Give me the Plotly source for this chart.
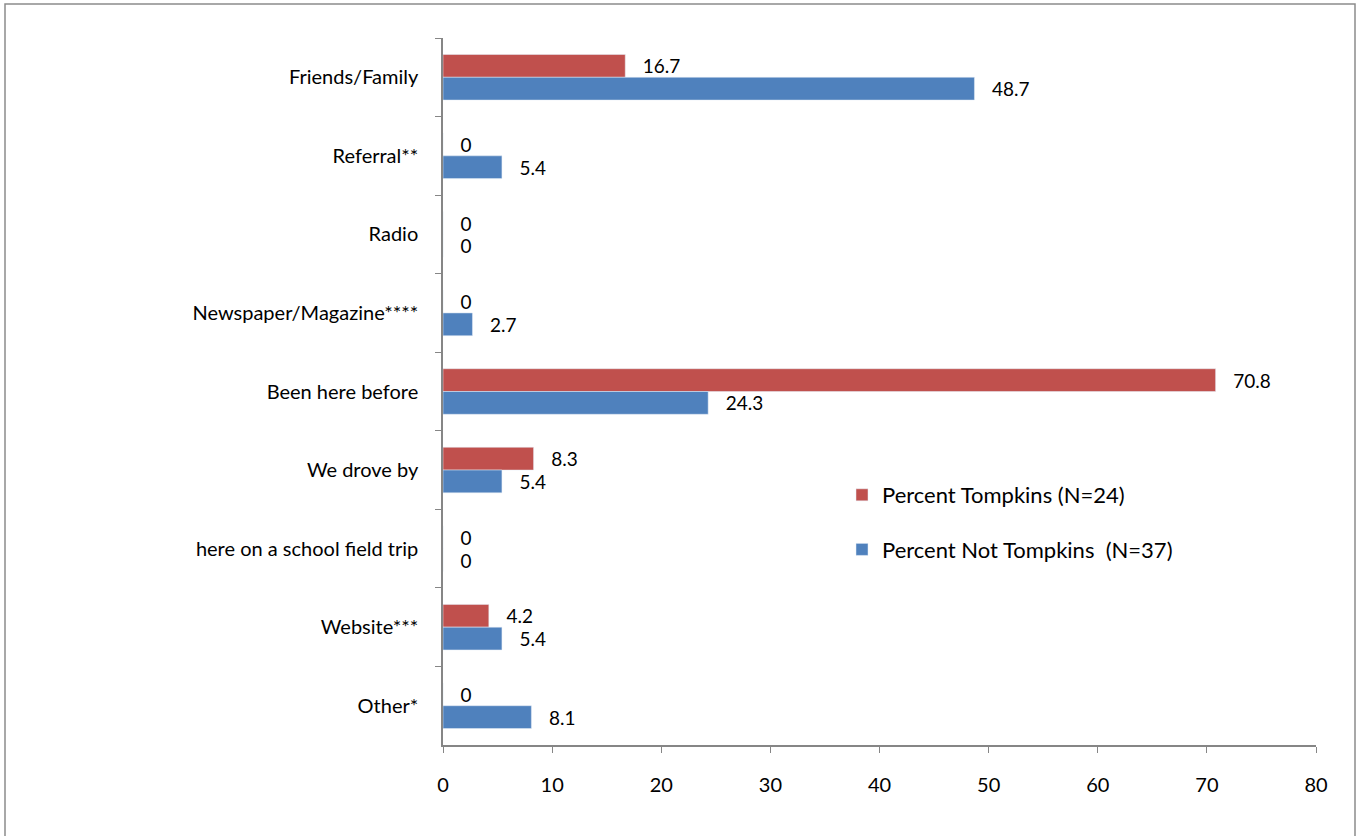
import plotly.graph_objects as go

categories = ["Friends/Family", "Referral**", "Radio", "Newspaper/Magazine****",
              "Been here before", "We drove by", "here on a school field trip",
              "Website***", "Other*"]
tompkins = [16.7, 0, 0, 0, 70.8, 8.3, 0, 4.2, 0]
not_tompkins = [48.7, 5.4, 0, 2.7, 24.3, 5.4, 0, 5.4, 8.1]
x_ticks = [0, 10, 20, 30, 40, 50, 60, 70, 80]

FONT = "Lato, Open Sans, sans-serif"
FS = 20

def fmt(v):
    return "   " + ("%g" % v)

fig = go.Figure()
fig.add_trace(go.Bar(
    y=categories, x=tompkins, orientation="h", name="Percent Tompkins (N=24)",
    marker=dict(color="#C0504D"), text=[fmt(v) for v in tompkins],
    textposition="outside", cliponaxis=False, legendgroup="a",
    textfont=dict(size=FS, color="black", family=FONT)))
fig.add_trace(go.Bar(
    y=categories, x=not_tompkins, orientation="h", name="Percent Not Tompkins  (N=37)",
    marker=dict(color="#4F81BD"), text=[fmt(v) for v in not_tompkins],
    textposition="outside", cliponaxis=False, legendgroup="b",
    textfont=dict(size=FS, color="black", family=FONT)))

W, H = 1369, 836
L, R, T, B = 443, 53, 38, 91
pw, ph = W - L - R, H - T - B

def px_x(x):
    return (x - L) / pw

def px_y(y):
    return (H - B - y) / ph

fig.update_layout(
    width=W, height=H, barmode="group", bargap=0.42, bargroupgap=0,
    margin=dict(l=L, r=R, t=T, b=B, autoexpand=False),
    paper_bgcolor="white", plot_bgcolor="white",
    font=dict(family=FONT, size=FS, color="black"),
    legend=dict(x=px_x(842), y=px_y(474), xanchor="left", yanchor="top",
                bgcolor="rgba(0,0,0,0)", font=dict(size=22, family=FONT),
                tracegroupgap=23, itemwidth=30, traceorder="grouped"),
    xaxis=dict(range=[0, 80], tickvals=x_ticks, showgrid=False, zeroline=False,
               showline=True, linecolor="#868686", linewidth=1.5,
               ticks="outside", ticklen=6, tickcolor="#868686",
               tickfont=dict(size=FS), ticklabelstandoff=15),
    yaxis=dict(autorange="reversed", showgrid=False, showline=True,
               linecolor="#868686", linewidth=1.5, ticks="outside", ticklen=6,
               tickcolor="#868686", tickson="boundaries",
               tickfont=dict(size=FS), ticklabelstandoff=19),
    shapes=[dict(type="rect", xref="paper", yref="paper",
                 x0=px_x(5), x1=px_x(1355), y0=px_y(850), y1=px_y(4),
                 line=dict(color="#8c8c8c", width=1.5), fillcolor="rgba(0,0,0,0)",
                 layer="below")],
)

fig.write_html("out.html", config={"displayModeBar": False},
               post_script="document.body.style.margin='0px';")
